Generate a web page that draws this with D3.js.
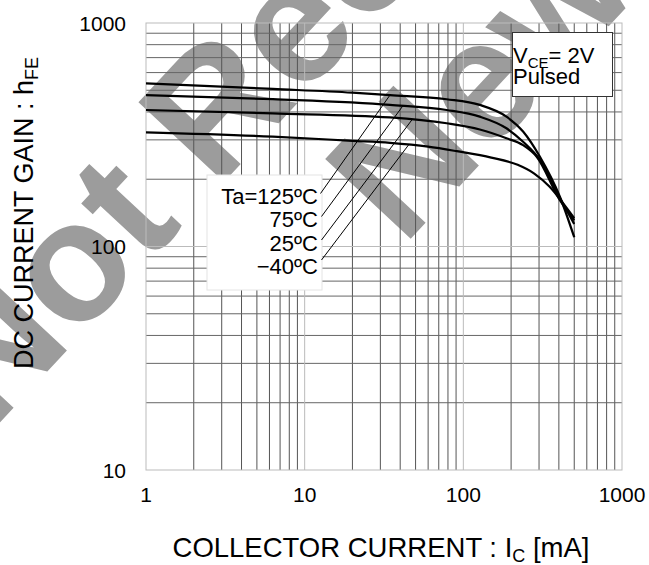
<!DOCTYPE html>
<html>
<head>
<meta charset="utf-8">
<script src="https://cdn.jsdelivr.net/npm/d3@7"></script>
<style>
  html, body { margin: 0; padding: 0; background: #fff; }
  svg { display: block; font-family: "Liberation Sans", Arial, Helvetica, sans-serif; }
</style>
</head>
<body>
<script>
// ---------------- data ----------------
const xTickValues = [1, 10, 100, 1000];
const yTickValues = [10, 100, 1000];

const ic125 = [1, 6.3, 20, 34.5, 78.5, 127, 187, 238, 304, 406, 500];
const hfe125 = [537, 507, 488, 476, 456, 430, 381, 327, 252, 167, 110];

const ic75 = [1, 6.3, 34.5, 78.5, 127, 187, 238, 304, 406, 500];
const hfe75 = [476, 456, 430, 408, 381, 338, 294, 244, 165, 126];

const ic25 = [1, 6.3, 34.5, 78.5, 127, 187, 238, 290, 406, 500];
const hfe25 = [408, 394, 378, 356, 334, 305, 284, 252, 161, 131];

const icM40 = [1, 6.3, 20, 34.5, 60, 91, 150, 220, 280, 350, 420, 500];
const hfeM40 = [324, 310, 297, 291, 280, 267, 250, 232, 212, 185, 158, 134];

const seriesLabels = ["Ta=125ºC", "75ºC", "25ºC", "−40ºC"];
const leaderTargetIc = [34.5, 41.5, 47.5, 45.3];

const watermarkLines = ["Not Recommended for", "New Designs"];

// ---------------- layout ----------------
const W = 649, H = 565;
const plot = { left: 146, right: 622, top: 23, bottom: 470 };

const svg = d3.select("body").append("svg").attr("width", W).attr("height", H);

const x = d3.scaleLog().domain([1, 1000]).range([plot.left, plot.right]);
const y = d3.scaleLog().domain([10, 1000]).range([plot.bottom, plot.top]);

// watermark (bottom layer)
const wm = svg.append("g").attr("fill", "#9c9c9c")
  .attr("font-weight", "bold").attr("font-size", 170);
wm.append("text").attr("transform", "translate(-9,432) rotate(-47)").text(watermarkLines[0]);
wm.append("text").attr("transform", "translate(403,247) rotate(-47)").text(watermarkLines[1]);

// grid
const grid = svg.append("g");
const minorX = [];
[1, 10, 100].forEach(d => { for (let k = 2; k <= 9; k++) minorX.push(d * k); });
const minorY = [];
[10, 100].forEach(d => { for (let k = 2; k <= 9; k++) minorY.push(d * k); });

grid.selectAll(".vx").data(minorX).enter().append("line")
  .attr("x1", d => x(d)).attr("x2", d => x(d))
  .attr("y1", plot.top).attr("y2", plot.bottom)
  .attr("stroke", "#555").attr("stroke-width", 1);
grid.selectAll(".hy").data(minorY).enter().append("line")
  .attr("y1", d => y(d)).attr("y2", d => y(d))
  .attr("x1", plot.left).attr("x2", plot.right)
  .attr("stroke", "#666").attr("stroke-width", 1);
grid.selectAll(".vd").data([10, 100]).enter().append("line")
  .attr("x1", d => x(d)).attr("x2", d => x(d))
  .attr("y1", plot.top).attr("y2", plot.bottom)
  .attr("stroke", "#bbb").attr("stroke-width", 1);
grid.selectAll(".hd").data([100]).enter().append("line")
  .attr("y1", d => y(d)).attr("y2", d => y(d))
  .attr("x1", plot.left).attr("x2", plot.right)
  .attr("stroke", "#bbb").attr("stroke-width", 1);
grid.append("rect")
  .attr("x", plot.left).attr("y", plot.top)
  .attr("width", plot.right - plot.left).attr("height", plot.bottom - plot.top)
  .attr("fill", "none").attr("stroke", "#bbb").attr("stroke-width", 1);

// curves
const series = [
  { ic: ic125, h: hfe125 },
  { ic: ic75, h: hfe75 },
  { ic: ic25, h: hfe25 },
  { ic: icM40, h: hfeM40 }
];
const line = d3.line().x(d => x(d[0])).y(d => y(d[1])).curve(d3.curveMonotoneX);
series.forEach(s => {
  svg.append("path")
    .attr("d", line(s.ic.map((v, i) => [v, s.h[i]])))
    .attr("fill", "none").attr("stroke", "#000").attr("stroke-width", 2.2);
});

// interpolation on curve (log-log)
function hfeAt(s, ic) {
  const lx = Math.log10(ic);
  for (let i = 0; i < s.ic.length - 1; i++) {
    const a = Math.log10(s.ic[i]), b = Math.log10(s.ic[i + 1]);
    if (lx >= a && lx <= b) {
      const t = (lx - a) / (b - a);
      return Math.pow(10, Math.log10(s.h[i]) + t * (Math.log10(s.h[i + 1]) - Math.log10(s.h[i])));
    }
  }
  return s.h[s.h.length - 1];
}

// legend box
svg.append("rect").attr("x", 207).attr("y", 175).attr("width", 115).attr("height", 115)
  .attr("fill", "#fff").attr("stroke", "#e4e4e4").attr("stroke-width", 1);
const labelBase = [204, 227.3, 250.6, 274];
const labelLineStart = [[320.5, 193.5], [321.5, 216.5], [321.5, 240], [321.5, 260]];
seriesLabels.forEach((t, i) => {
  svg.append("text").attr("x", 318).attr("y", labelBase[i])
    .attr("text-anchor", "end").attr("font-size", 22).attr("fill", "#000").text(t);
  const tx = leaderTargetIc[i];
  svg.append("line")
    .attr("x1", labelLineStart[i][0]).attr("y1", labelLineStart[i][1])
    .attr("x2", x(tx)).attr("y2", y(hfeAt(series[i], tx)))
    .attr("stroke", "#000").attr("stroke-width", 1);
});

// VCE box
svg.append("rect").attr("x", 512.5).attr("y", 32.5).attr("width", 100).attr("height", 64)
  .attr("fill", "#fff").attr("stroke", "#333").attr("stroke-width", 1);
const vt = svg.append("text").attr("x", 513).attr("y", 63).attr("font-size", 22).attr("fill", "#000");
vt.append("tspan").text("V");
vt.append("tspan").attr("font-size", 15).attr("dy", 5).text("CE");
vt.append("tspan").attr("dy", -5).text("= 2V");
svg.append("text").attr("x", 513).attr("y", 83.5).attr("font-size", 22).attr("fill", "#000").text("Pulsed");

// tick labels
svg.selectAll(".xt").data(xTickValues).enter().append("text")
  .attr("x", d => x(d)).attr("y", 501.5).attr("text-anchor", "middle")
  .attr("font-size", 21).attr("fill", "#000").text(d => d);
svg.selectAll(".yt").data(yTickValues).enter().append("text")
  .attr("x", 126).attr("y", d => y(d) + 7.5).attr("text-anchor", "end")
  .attr("font-size", 21).attr("fill", "#000").text(d => d);

// axis titles
const xt = svg.append("text").attr("x", 381).attr("y", 557).attr("text-anchor", "middle")
  .attr("font-size", 27.5).attr("fill", "#000");
xt.append("tspan").text("COLLECTOR CURRENT : I");
xt.append("tspan").attr("font-size", 18).attr("dy", 5).text("C");
xt.append("tspan").attr("dy", -5).text(" [mA]");

const yt = svg.append("text").attr("transform", "translate(33,213) rotate(-90)")
  .attr("text-anchor", "middle").attr("font-size", 27).attr("fill", "#000");
yt.append("tspan").text("DC CURRENT GAIN : h");
yt.append("tspan").attr("font-size", 18).attr("dy", 5).text("FE");
</script>
</body>
</html>
